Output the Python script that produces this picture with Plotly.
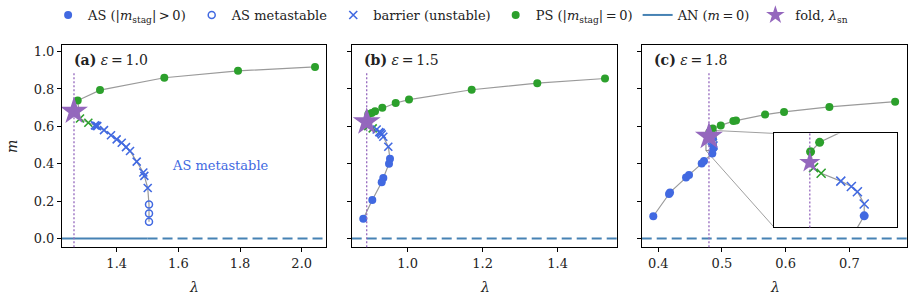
import plotly.graph_objects as go

# ---------------- data ----------------
# Panel (a) eps = 1.0
a_ps_lam = [1.2735, 1.3459, 1.5544, 1.7935, 2.0432]
a_ps_m = [0.738, 0.794, 0.860, 0.897, 0.918]
a_bps_lam = [1.281, 1.308]
a_bps_m = [0.642, 0.619]
a_bas_lam = [1.3296, 1.3340, 1.3371, 1.3588, 1.3815, 1.3999, 1.4163, 1.4302, 1.4432, 1.4649, 1.4863, 1.4896, 1.5006]
a_bas_m = [0.605, 0.603, 0.601, 0.580, 0.552, 0.530, 0.512, 0.489, 0.468, 0.411, 0.353, 0.335, 0.270]
a_as_lam = []
a_as_m = []
a_meta_lam = [1.5048, 1.5048, 1.5048]
a_meta_m = [0.181, 0.133, 0.089]
a_fold = [1.2615, 0.681]
a_an_stable_end = 1.5

# Panel (b) eps = 1.5
b_ps_lam = [0.895, 0.904, 0.913, 0.9323, 0.9680, 1.0035, 1.1707, 1.3456, 1.5262]
b_ps_m = [0.664, 0.672, 0.681, 0.699, 0.725, 0.743, 0.796, 0.831, 0.856]
b_bps_lam = [0.895, 0.9067]
b_bps_m = [0.601, 0.589]
b_bas_lam = [0.9173, 0.9243, 0.928, 0.9307, 0.935, 0.9483]
b_bas_m = [0.583, 0.569, 0.565, 0.557, 0.544, 0.491]
b_as_lam = [0.9528, 0.9502, 0.935, 0.9307, 0.9056, 0.8816]
b_as_m = [0.427, 0.400, 0.323, 0.300, 0.206, 0.105]
b_meta_lam = []
b_meta_m = []
b_fold = [0.8907, 0.624]
b_an_stable_end = None

# Panel (c) eps = 1.8
c_ps_lam = [0.4797, 0.4809, 0.4855, 0.4981, 0.5179, 0.5221, 0.5677, 0.5975, 0.6687, 0.7719]
c_ps_m = [0.5586, 0.5696, 0.589, 0.605, 0.628, 0.631, 0.663, 0.677, 0.704, 0.732]
c_bps_lam = [0.4801, 0.4811]
c_bps_m = [0.5400, 0.5335]
c_bas_lam = [0.4837, 0.4851, 0.4859, 0.4868]
c_bas_m = [0.5242, 0.5180, 0.5118, 0.4975]
c_as_lam = [0.4868, 0.4849, 0.4718, 0.4682, 0.4483, 0.4436, 0.4185, 0.4169, 0.3922]
c_as_m = [0.4836, 0.455, 0.4149, 0.4005, 0.340, 0.326, 0.2463, 0.2378, 0.1186]
c_meta_lam = []
c_meta_m = []
c_fold = [0.4796, 0.546]
c_an_stable_end = None

titles = ["(a)", "(b)", "(c)"]
eps_vals = ["1.0", "1.5", "1.8"]

# inset window (panel c)
inset_lam = [0.4749, 0.4911]
inset_m = [0.470, 0.580]

# ---------------- styling / layout ----------------
W, H = 914, 301
SERIF = "DejaVu Serif"
BLUE = "#4169E1"
GREEN = "#2ca02c"
PURPLE = "#9467bd"
ANCOL = "#4682B4"
GRAY = "#9a9a9a"
TS = "\u2009"  # thin space

xdom = [[62 / W, 326 / W], [351.7 / W, 617.3 / W], [641.7 / W, 907.3 / W]]
ydom = [(H - 247) / H, (H - 43) / H]
xranges = [[1.2226, 2.0788], [0.8507, 1.559], [0.374, 0.791]]
yrange = [-0.048, 1.037]
xticks = [[1.4, 1.6, 1.8, 2.0], [1.0, 1.2, 1.4], [0.4, 0.5, 0.6, 0.7]]
yticks = [0.0, 0.2, 0.4, 0.6, 0.8, 1.0]
inset_xdom = [774.3 / W, 896.7 / W]
inset_ydom = [(H - 227) / H, (H - 132.3) / H]

panels = [
    dict(ps=(a_ps_lam, a_ps_m), bps=(a_bps_lam, a_bps_m), bas=(a_bas_lam, a_bas_m),
         as_=(a_as_lam, a_as_m), meta=(a_meta_lam, a_meta_m), fold=a_fold, an=a_an_stable_end),
    dict(ps=(b_ps_lam, b_ps_m), bps=(b_bps_lam, b_bps_m), bas=(b_bas_lam, b_bas_m),
         as_=(b_as_lam, b_as_m), meta=(b_meta_lam, b_meta_m), fold=b_fold, an=b_an_stable_end),
    dict(ps=(c_ps_lam, c_ps_m), bps=(c_bps_lam, c_bps_m), bas=(c_bas_lam, c_bas_m),
         as_=(c_as_lam, c_as_m), meta=(c_meta_lam, c_meta_m), fold=c_fold, an=c_an_stable_end),
]

fig = go.Figure()


def add_branch(p, xa, ya, star_size, msize):
    pts = []
    for key in ["ps", "bps", "bas", "as_", "meta"]:
        pts += list(zip(p[key][0], p[key][1]))
    pts.sort(key=lambda t: -t[1])
    fig.add_trace(go.Scatter(x=[t[0] for t in pts], y=[t[1] for t in pts], mode="lines",
                             line=dict(color=GRAY, width=1.2), xaxis=xa, yaxis=ya,
                             showlegend=False, hoverinfo="skip"))
    fig.add_trace(go.Scatter(x=p["ps"][0], y=p["ps"][1], mode="markers",
                             marker=dict(color=GREEN, size=msize, line=dict(width=0)),
                             xaxis=xa, yaxis=ya, showlegend=False))
    fig.add_trace(go.Scatter(x=p["bps"][0], y=p["bps"][1], mode="markers",
                             marker=dict(symbol="x-thin", color=GREEN, size=msize,
                                         line=dict(color=GREEN, width=1.6)),
                             xaxis=xa, yaxis=ya, showlegend=False))
    fig.add_trace(go.Scatter(x=p["bas"][0], y=p["bas"][1], mode="markers",
                             marker=dict(symbol="x-thin", color=BLUE, size=msize,
                                         line=dict(color=BLUE, width=1.6)),
                             xaxis=xa, yaxis=ya, showlegend=False))
    fig.add_trace(go.Scatter(x=p["as_"][0], y=p["as_"][1], mode="markers",
                             marker=dict(color=BLUE, size=msize, line=dict(width=0)),
                             xaxis=xa, yaxis=ya, showlegend=False))
    fig.add_trace(go.Scatter(x=p["meta"][0], y=p["meta"][1], mode="markers",
                             marker=dict(symbol="circle-open", color=BLUE, size=msize - 1,
                                         line=dict(color=BLUE, width=1.5)),
                             xaxis=xa, yaxis=ya, showlegend=False))
    fig.add_trace(go.Scatter(x=[p["fold"][0]], y=[p["fold"][1]], mode="markers",
                             marker=dict(symbol="star", color=PURPLE, size=star_size,
                                         line=dict(width=0)),
                             xaxis=xa, yaxis=ya, showlegend=False))


shapes = []
annotations = []
for i, p in enumerate(panels):
    xa = "x" if i == 0 else f"x{i + 1}"
    ya = "y" if i == 0 else f"y{i + 1}"
    x0, x1 = xranges[i]
    # AN line m = 0
    if p["an"] is not None:
        fig.add_trace(go.Scatter(x=[x0, p["an"]], y=[0, 0], mode="lines",
                                 line=dict(color=ANCOL, width=2), xaxis=xa, yaxis=ya,
                                 showlegend=False, hoverinfo="skip"))
        dstart = p["an"]
    else:
        dstart = x0
    fig.add_trace(go.Scatter(x=[dstart, x1], y=[0, 0], mode="lines",
                             line=dict(color=ANCOL, width=2, dash="10px,5px"), xaxis=xa, yaxis=ya,
                             showlegend=False, hoverinfo="skip"))
    # fold vertical dotted line
    shapes.append(dict(type="line", xref=xa, yref=f"{ya} domain", x0=p["fold"][0], x1=p["fold"][0],
                       y0=0, y1=0.86, line=dict(color=PURPLE, width=1.3, dash="2px,2px")))
    add_branch(p, xa, ya, 21, 8)
    # panel label
    annotations.append(dict(xref="paper", yref="paper", x=xdom[i][0] + 10 / W, y=(H - 58) / H,
                            xanchor="left", yanchor="middle", showarrow=False,
                            text=f"<b>{titles[i]}</b> <i>ε</i>{TS}={TS}{eps_vals[i]}",
                            font=dict(family=SERIF, size=14, color="#222")))
    # x label
    annotations.append(dict(xref="paper", yref="paper", x=(xdom[i][0] + xdom[i][1]) / 2,
                            y=(H - 287) / H, xanchor="center", yanchor="middle", showarrow=False,
                            text="<i>λ</i>", font=dict(family=SERIF, size=14, color="#222")))

# inset on panel (c)
shapes.append(dict(type="line", xref="x4", yref="y4 domain", x0=c_fold[0], x1=c_fold[0],
                   y0=0, y1=1, line=dict(color=PURPLE, width=1.3, dash="2px,2px")))
add_branch(panels[2], "x4", "y4", 16, 9)
# inset indicator rectangle in main panel (c)
shapes.append(dict(type="rect", xref="x3", yref="y3", x0=inset_lam[0], x1=inset_lam[1],
                   y0=inset_m[0], y1=inset_m[1], line=dict(color="#808080", width=1), layer="below"))


def to_paper(lam, m):
    xr = xranges[2]
    px = xdom[2][0] + (lam - xr[0]) / (xr[1] - xr[0]) * (xdom[2][1] - xdom[2][0])
    py = ydom[0] + (m - yrange[0]) / (yrange[1] - yrange[0]) * (ydom[1] - ydom[0])
    return px, py


ulx, uly = to_paper(inset_lam[0], inset_m[1])
llx, lly = to_paper(inset_lam[0], inset_m[0])
shapes.append(dict(type="line", xref="paper", yref="paper", x0=ulx, y0=uly, x1=inset_xdom[0],
                   y1=inset_ydom[1], line=dict(color="#a0a0a0", width=1), layer="below"))
shapes.append(dict(type="line", xref="paper", yref="paper", x0=llx, y0=lly, x1=inset_xdom[0],
                   y1=inset_ydom[0], line=dict(color="#a0a0a0", width=1), layer="below"))

# "AS metastable" note
annotations.append(dict(xref="x", yref="y", x=1.737, y=0.388, text="AS metastable", showarrow=False,
                        xanchor="center", yanchor="middle",
                        font=dict(family=SERIF, size=13, color=BLUE)))
# y label
annotations.append(dict(xref="paper", yref="paper", x=12 / W, y=(H - 146) / H, xanchor="center",
                        yanchor="middle", showarrow=False, text="<i>m</i>", textangle=-90,
                        font=dict(family=SERIF, size=14, color="#222")))

# legend entries
leg = [
    dict(name=f"AS (|<i>m</i><sub>stag</sub>|{TS}>{TS}0)", mode="markers",
         marker=dict(color=BLUE, size=8)),
    dict(name="AS metastable", mode="markers",
         marker=dict(symbol="circle-open", color=BLUE, size=7, line=dict(color=BLUE, width=1.5))),
    dict(name="barrier (unstable)", mode="markers",
         marker=dict(symbol="x-thin", color=BLUE, size=8, line=dict(color=BLUE, width=1.6))),
    dict(name=f"PS (|<i>m</i><sub>stag</sub>|{TS}={TS}0)", mode="markers",
         marker=dict(color=GREEN, size=8)),
    dict(name=f"AN (<i>m</i>{TS}={TS}0)", mode="lines", line=dict(color=ANCOL, width=2)),
    dict(name="fold, <i>λ</i><sub>sn</sub>", mode="markers",
         marker=dict(symbol="star", color=PURPLE, size=14)),
]
for e in leg:
    fig.add_trace(go.Scatter(x=[None], y=[None], showlegend=True, **e))

axis_common = dict(showline=True, mirror=True, linecolor="black", linewidth=1, ticks="outside",
                   ticklen=4, tickwidth=1, tickcolor="black", showgrid=False, zeroline=False,
                   tickfont=dict(family=SERIF, size=13, color="#222"))

layout = dict(
    width=W, height=H, margin=dict(l=0, r=0, t=0, b=0),
    paper_bgcolor="white", plot_bgcolor="white",
    shapes=shapes, annotations=annotations,
    legend=dict(orientation="h", x=0.493, xanchor="center", y=1.008, yanchor="top",
                font=dict(family=SERIF, size=13, color="#222"), bgcolor="rgba(0,0,0,0)",
                tracegroupgap=0, itemwidth=30),
)
for i in range(3):
    xk = "xaxis" if i == 0 else f"xaxis{i + 1}"
    yk = "yaxis" if i == 0 else f"yaxis{i + 1}"
    xa = "x" if i == 0 else f"x{i + 1}"
    layout[xk] = dict(domain=xdom[i], range=xranges[i], anchor="y" if i == 0 else f"y{i + 1}",
                      tickvals=xticks[i], ticktext=[f"{v:.1f}" for v in xticks[i]], **axis_common)
    layout[yk] = dict(domain=ydom, range=yrange, anchor=xa, tickvals=yticks,
                      ticktext=[f"{v:.1f}" for v in yticks], showticklabels=(i == 0), **axis_common)
layout["xaxis4"] = dict(domain=inset_xdom, range=inset_lam, anchor="y4", showline=True, mirror=True,
                        linecolor="black", linewidth=1.2, ticks="", showticklabels=False,
                        showgrid=False, zeroline=False)
layout["yaxis4"] = dict(domain=inset_ydom, range=inset_m, anchor="x4", showline=True, mirror=True,
                        linecolor="black", linewidth=1.2, ticks="", showticklabels=False,
                        showgrid=False, zeroline=False)
fig.update_layout(**layout)
fig.write_html("out.html")
